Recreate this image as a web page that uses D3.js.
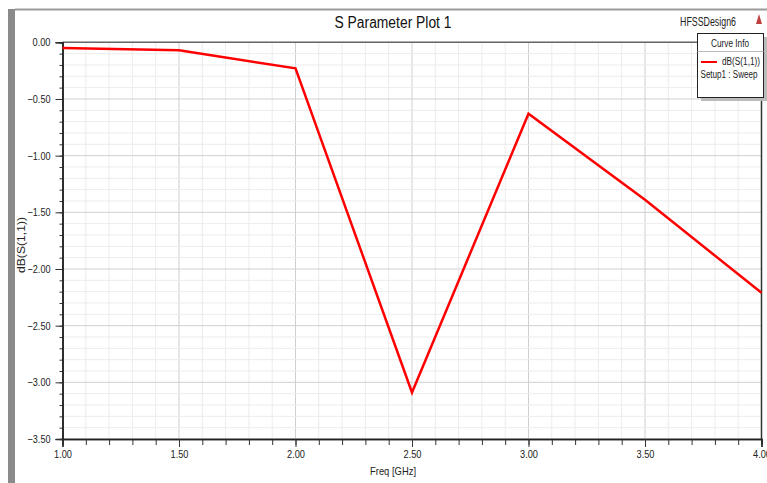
<!DOCTYPE html>
<html lang="en">
<head>
    <meta charset="UTF-8">
    <title>S Parameter Plot 1</title>
    <script src="https://d3js.org/d3.v7.min.js"></script>
    <style>
        html,
        body {
            margin: 0;
            height: 100%;
            overflow: hidden;
            background: #fff;
        }
        text {
            font-family: "Liberation Sans", Arial, sans-serif;
        }
    </style>
</head>
<body>
    <svg id="svg"></svg>
    <script>
        // sweep points
        const freq = [1.0, 1.5, 2.0, 2.5, 3.0, 3.5, 4.0];
        const s11 = [-0.05, -0.07, -0.23, -3.09, -0.63, -1.39, -2.21];
        const xTicks = [1.0, 1.5, 2.0, 2.5, 3.0, 3.5, 4.0];
        const yTicks = [0, -0.5, -1.0, -1.5, -2.0, -2.5, -3.0, -3.5];

        const width = 767, height = 483;
        const svg = d3.select('#svg').attr('width', width).attr('height', height);

        const x = d3.scaleLinear().domain([1, 4]).range([62.5, 761.5]);
        const y = d3.scaleLinear().domain([-3.5, 0]).range([439, 42.3]);

        const minorX = d3.range(10, 41).map(d => d / 10);
        const minorY = d3.range(-35, 1).map(d => d / 10);
        const isMajor = d => Math.abs(d * 2 - Math.round(d * 2)) < 1e-6;

        // narrow text: the original uses a condensed face, squeeze glyphs to width
        const squeeze = (sel, w) => sel.attr('textLength', w).attr('lengthAdjust', 'spacingAndGlyphs');

        // window frame
        svg.append('rect').attr('x', 8).attr('y', 9).attr('width', 7).attr('height', 474)
            .attr('fill', '#8a8a8a');
        svg.append('line').attr('x1', 15).attr('x2', width).attr('y1', 9.5).attr('y2', 9.5)
            .attr('stroke', '#9a9a9a').attr('stroke-width', 2);

        // grid
        const grid = svg.append('g');
        grid.selectAll('.gx').data(minorX).join('line')
            .attr('x1', d => x(d)).attr('x2', d => x(d))
            .attr('y1', y(0)).attr('y2', y(-3.5))
            .attr('stroke', d => isMajor(d) ? '#d0d0d0' : '#ececec');
        grid.selectAll('.gy').data(minorY).join('line')
            .attr('x1', x(1)).attr('x2', x(4))
            .attr('y1', d => y(d)).attr('y2', d => y(d))
            .attr('stroke', d => isMajor(d) ? '#d0d0d0' : '#ececec');

        // top and right border of plot area
        svg.append('line').attr('x1', x(1)).attr('x2', x(4)).attr('y1', y(0)).attr('y2', y(0))
            .attr('stroke', '#666').attr('stroke-width', 1.5);
        svg.append('line').attr('x1', x(4)).attr('x2', x(4)).attr('y1', y(0)).attr('y2', y(-3.5))
            .attr('stroke', '#333').attr('stroke-width', 1.5);

        // axes
        const fmt = d3.format('.2f');
        const yAxis = svg.append('g').attr('transform', `translate(${x(1)},0)`);
        yAxis.call(d3.axisLeft(y).tickValues(minorY).tickSize(3).tickFormat(''));
        yAxis.append('g').call(d3.axisLeft(y).tickValues(yTicks).tickSize(7).tickFormat(fmt));
        const xAxis = svg.append('g').attr('transform', `translate(0,${y(-3.5)})`);
        xAxis.call(d3.axisBottom(x).tickValues(minorX).tickSize(6).tickFormat(''));
        xAxis.append('g').call(d3.axisBottom(x).tickValues(xTicks).tickSize(8).tickPadding(3).tickFormat(fmt));

        svg.selectAll('.domain').attr('stroke', '#222').attr('stroke-width', 1.5);
        svg.selectAll('.tick line').attr('stroke', '#333');
        svg.selectAll('.tick text').attr('font-size', 11).attr('fill', '#222')
            .each(function (d) {
                squeeze(d3.select(this), d < 0 ? 23 : 18);
            });
        yAxis.selectAll('.tick text').attr('dx', '-2');

        // curve
        const line = d3.line().x(d => x(d[0])).y(d => y(d[1]));
        svg.append('path').datum(d3.zip(freq, s11))
            .attr('d', line)
            .attr('fill', 'none')
            .attr('stroke', '#ff0000')
            .attr('stroke-width', 2.5)
            .attr('stroke-linejoin', 'miter');

        // titles
        squeeze(svg.append('text').attr('x', 393).attr('y', 28).attr('text-anchor', 'middle')
            .attr('font-size', 16).attr('fill', '#111').text('S Parameter Plot 1'), 117);
        squeeze(svg.append('text').attr('x', 708).attr('y', 26).attr('text-anchor', 'middle')
            .attr('font-size', 12).attr('fill', '#222').text('HFSSDesign6'), 56);
        svg.append('path').attr('d', 'M756,24 L759,14 L762,24 Z').attr('fill', '#c04040');
        squeeze(svg.append('text').attr('x', 393).attr('y', 475).attr('text-anchor', 'middle')
            .attr('font-size', 11).attr('fill', '#222').text('Freq [GHz]'), 46);
        squeeze(svg.append('text').attr('transform', 'translate(25,245) rotate(-90)').attr('text-anchor', 'middle')
            .attr('font-size', 11).attr('fill', '#222').text('dB(S(1,1))'), 56);

        // curve info box
        const lg = svg.append('g');
        lg.append('rect').attr('x', 701).attr('y', 37).attr('width', 66).attr('height', 64).attr('fill', '#bbb');
        lg.append('rect').attr('x', 697.5).attr('y', 33.5).attr('width', 66).attr('height', 64)
            .attr('fill', '#fff').attr('stroke', '#222');
        squeeze(lg.append('text').attr('x', 730).attr('y', 47).attr('text-anchor', 'middle')
            .attr('font-size', 10).attr('fill', '#222').text('Curve Info'), 38);
        lg.append('line').attr('x1', 697.5).attr('x2', 763.5).attr('y1', 51.5).attr('y2', 51.5).attr('stroke', '#bbb');
        lg.append('line').attr('x1', 701).attr('x2', 717).attr('y1', 62).attr('y2', 62)
            .attr('stroke', '#ff0000').attr('stroke-width', 2);
        squeeze(lg.append('text').attr('x', 741).attr('y', 65).attr('text-anchor', 'middle')
            .attr('font-size', 10).attr('fill', '#222').text('dB(S(1,1))'), 38);
        squeeze(lg.append('text').attr('x', 729).attr('y', 78).attr('text-anchor', 'middle')
            .attr('font-size', 10).attr('fill', '#222').text('Setup1 : Sweep'), 57);
    </script>
</body>
</html>
